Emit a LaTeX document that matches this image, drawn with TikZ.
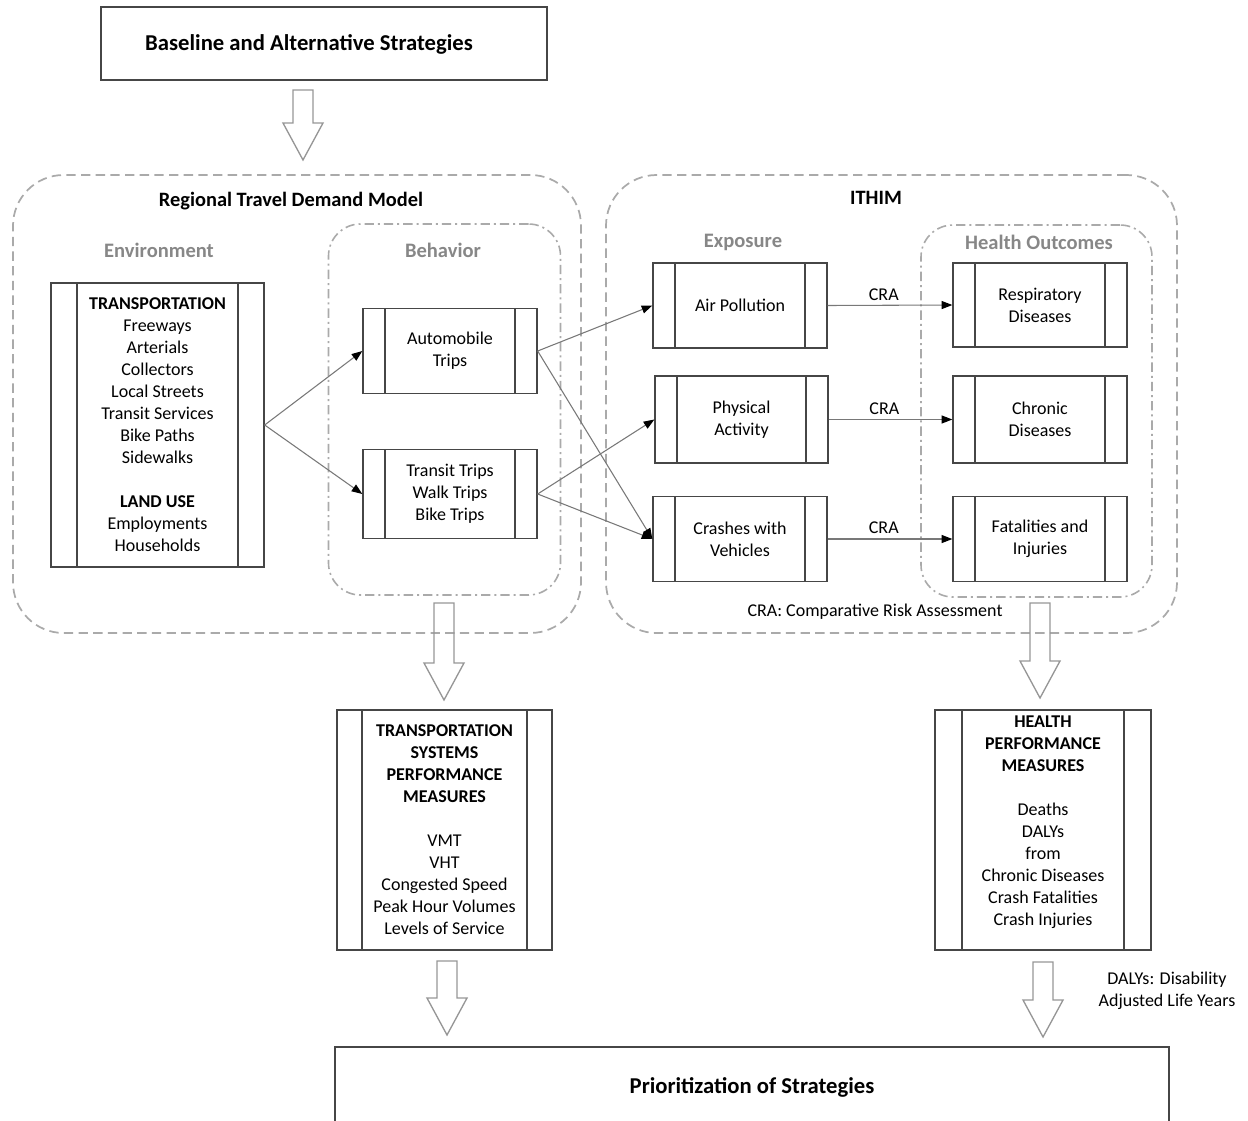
\documentclass[tikz,border=0pt]{standalone}
\usepackage{fontspec}
\setmainfont{Carlito}
\usetikzlibrary{arrows.meta}
\definecolor{boxline}{RGB}{70,70,70}
\definecolor{linkgray}{RGB}{120,120,120}
\definecolor{dashgray}{RGB}{170,170,170}
\definecolor{headgray}{RGB}{135,135,135}
\definecolor{arrowgray}{RGB}{150,150,150}
\tikzset{
  wh/.style 2 args={minimum width=#1*0.75pt, minimum height=#2*0.75pt},
  proc/.style={draw=boxline, line width=1pt, align=center, inner sep=0pt,
    path picture={\draw[boxline, line width=1pt]
      ([xshift=#1*0.75pt]path picture bounding box.north west) -- ([xshift=#1*0.75pt]path picture bounding box.south west)
      ([xshift=-#1*0.75pt]path picture bounding box.north east) -- ([xshift=-#1*0.75pt]path picture bounding box.south east);}},
  proc/.default=22,
  plainbox/.style={draw=boxline, line width=1pt},
  outerzone/.style={draw=dashgray, line width=1.3pt, dash pattern=on 7pt off 4pt, rounded corners=38pt},
  innerzone/.style={draw=dashgray, line width=1.2pt, dash pattern=on 7pt off 3pt on 1.5pt off 3pt, rounded corners=24pt},
  heading/.style={font=\fontsize{15.4}{18}\selectfont\bfseries, text=headgray},
  zonetitle/.style={font=\fontsize{15.3}{18}\selectfont\bfseries},
  bigtitle/.style={font=\fontsize{17}{20}\selectfont\bfseries},
  link/.style={draw=linkgray, line width=0.8pt, -{Triangle[length=8pt,width=6pt,fill=black,color=black]}},
  blockarr/.style={draw=arrowgray, line width=1pt, line join=miter},
}
\begin{document}
\begin{tikzpicture}[x=0.75pt, y=-0.75pt, every node/.style={font=\fontsize{13.5}{16.5}\selectfont}]
  \useasboundingbox (0,0) rectangle (1248,1120);
  % containers
  \node[outerzone, wh={568}{458}] (rtdm) at (297,404) {};
  \node[outerzone, wh={571}{458}] (ithim) at (891.5,404) {};
  \node[innerzone, wh={232}{371}] (behav) at (444.5,409.5) {};
  \node[innerzone, wh={231}{372}] (health) at (1036.5,411) {};
  \node[zonetitle] (rtdmtitle) at (291,201) {Regional Travel Demand Model};
  \node[zonetitle] (ithimtitle) at (876,198) {ITHIM};
  \node[heading] (envhead) at (159,250) {Environment};
  \node[heading] (behavhead) at (443,250) {Behavior};
  \node[heading] (exphead) at (743,242) {Exposure};
  \node[heading] (healthhead) at (1039,242) {Health Outcomes};
  % top and bottom
  \node[plainbox, wh={446}{73}] (base) at (324,43.5) {};
  \node[bigtitle] (basetext) at (309,44) {Baseline and Alternative Strategies};
  \node[plainbox, wh={834}{80}, bigtitle] (prio) at (752,1087) {Prioritization of Strategies};
  % environment and behavior
  \node[proc=26, wh={213}{284}] (env) at (157.5,425)
    {\textbf{TRANSPORTATION}\\Freeways\\Arterials\\Collectors\\Local Streets\\Transit Services\\Bike Paths\\Sidewalks\\[16.5pt]\textbf{LAND USE}\\Employments\\Households};
  \node[proc, wh={174}{85}] (auto) at (450,351) {Automobile\\Trips};
  \node[proc, wh={174}{89}] (transit) at (450,494) {Transit Trips\\Walk Trips\\Bike Trips};
  % exposure
  \node[proc, wh={174}{85}] (air) at (740,305.5) {Air Pollution};
  \node[proc, wh={173}{87}] (phys) at (741.5,419.5) {Physical\\Activity};
  \node[proc, wh={174}{85}] (crash) at (740,539) {Crashes with\\Vehicles};
  % health outcomes
  \node[proc, wh={174}{84}] (resp) at (1040,305) {Respiratory\\Diseases};
  \node[proc, wh={174}{87}] (chron) at (1040,419.5) {Chronic\\Diseases};
  \node[proc, wh={174}{85}] (fatal) at (1040,539) {Fatalities and\\Injuries};
  \node (cranote) at (875,612) {CRA: Comparative Risk Assessment};
  % performance measures
  \node[proc=25, wh={215}{240}] (tpm) at (444.5,830)
    {\textbf{TRANSPORTATION}\\\textbf{SYSTEMS}\\\textbf{PERFORMANCE}\\\textbf{MEASURES}\\[16.5pt]VMT\\VHT\\Congested Speed\\Peak Hour Volumes\\Levels of Service};
  \node[proc=27, wh={216}{240}] (hpm) at (1043,830) {};
  \node[align=center] (hpmtext) at (1043,822)
    {\textbf{HEALTH}\\\textbf{PERFORMANCE}\\\textbf{MEASURES}\\[16.5pt]Deaths\\DALYs\\from\\Chronic Diseases\\Crash Fatalities\\Crash Injuries};
  \node[align=center] (dalynote) at (1167,991) {DALYs: Disability\\Adjusted Life Years};
  % links
  \draw[link] (env.east) -- (auto.west);
  \draw[link] (env.east) -- (transit.west);
  \draw[link] (auto.east) -- (air.west);
  \draw[link] (auto.east) -- (crash.west);
  \draw[link] (transit.east) -- (phys.west);
  \draw[link] (transit.east) -- (crash.west);
  \draw[link] (air.east) -- node[above, pos=0.45] (cra1) {CRA} (resp.west);
  \draw[link] (phys.east) -- node[above, pos=0.45] (cra2) {CRA} (chron.west);
  \draw[link] (crash.east) -- node[above, pos=0.45] (cra3) {CRA} (fatal.west);
  % block arrows
  \foreach \ax/\ya/\yb in {303/90/160, 444/603/700, 1040/603/698, 447/961/1035, 1043/962/1037}
    \draw[blockarr] (\ax-10,\ya) -- (\ax+10,\ya) -- (\ax+10,\yb-37) -- (\ax+20,\yb-37)
      -- (\ax,\yb) -- (\ax-20,\yb-37) -- (\ax-10,\yb-37) -- cycle;
\end{tikzpicture}
\end{document}
